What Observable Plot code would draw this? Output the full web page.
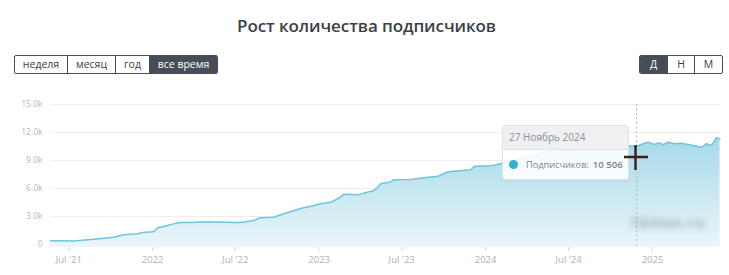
<!DOCTYPE html>
<html>
<head>
<meta charset="utf-8">
<script src="https://cdn.jsdelivr.net/npm/d3@7"></script>
<script src="https://cdn.jsdelivr.net/npm/@observablehq/plot@0.6"></script>
<style>
  html, body { margin: 0; padding: 0; background: #fff; }
  body { width: 729px; height: 275px; position: relative; overflow: hidden; font-family: "Open Sans", "Noto Sans", sans-serif; }
  #title { position: absolute; left: 0; top: 14px; width: 729px; text-align: center; font-size: 17px; font-weight: 600; color: #3b3f46; letter-spacing: -0.1px; padding-left: 4px; box-sizing: border-box; }
  .grp { position: absolute; top: 55px; height: 17px; display: flex; border: 1px solid #4a4f57; border-radius: 2px; overflow: hidden; }
  .grp div { font-size: 10.5px; line-height: 17px; color: #3b3f46; text-align: center; border-right: 1px solid #4a4f57; box-sizing: border-box; }
  .grp div:last-child { border-right: none; }
  .grp div.on { background: #474d57; color: #fff; }
  #chart { position: absolute; left: 0; top: 95px; }
  #tip { position: absolute; left: 502px; top: 125px; width: 125px; height: 53px; border: 1px solid #dfe2e6; border-radius: 3px; overflow: hidden; box-shadow: 0 1px 2px rgba(0,0,0,0.06); }
  #tip .hd { height: 23px; background: #eef0f2; border-bottom: 1px solid #dfe2e6; font-size: 10px; line-height: 23px; color: #8b9099; padding-left: 6px; }
  #tip .bd { height: 29px; background: rgba(255,255,255,0.88); font-size: 9.2px; line-height: 29px; color: #80858e; padding-left: 6px; white-space: nowrap; }
  #tip .dot { display: inline-block; width: 9px; height: 9px; border-radius: 50%; background: #35add7; vertical-align: -1px; margin-right: 8px; }
  #tip b { font-weight: 600; margin-left: 4px; color: #7a7f88; font-size: 9.6px; }
  #wm { position: absolute; left: 630px; top: 213px; font-size: 14px; font-weight: 700; color: #6f7a82; filter: blur(3px); opacity: 0.6; letter-spacing: 1px; }
  #cur { position: absolute; left: 623px; top: 145px; }
</style>
</head>
<body>
<div id="title">Рост количества подписчиков</div>
<div class="grp" style="left:14px;">
  <div style="width:53px">неделя</div>
  <div style="width:48px">месяц</div>
  <div style="width:34px">год</div>
  <div class="on" style="width:67px">все время</div>
</div>
<div class="grp" style="left:639px;">
  <div class="on" style="width:28px">Д</div>
  <div style="width:27px">Н</div>
  <div style="width:27px">М</div>
</div>
<div id="chart"></div>
<div id="wm">TGStat.ru</div>
<div id="tip">
  <div class="hd">27 Ноябрь 2024</div>
  <div class="bd"><span class="dot"></span>Подписчиков:<b>10 506</b></div>
</div>
<svg id="cur" width="26" height="26"><path d="M1,12 H25 M12.5,0 V25" stroke="#3b1f18" stroke-width="2.4" fill="none"/></svg>
<script>
const dates = [
  "2021-05-22","2021-07-12","2021-08-25","2021-10-08","2021-10-30","2021-11-30","2021-12-10",
  "2022-01-03","2022-01-12","2022-01-25","2022-02-16","2022-03-03","2022-03-25","2022-05-01",
  "2022-06-27","2022-07-13","2022-07-28","2022-08-10","2022-08-26","2022-09-23","2022-10-24",
  "2022-11-28","2022-12-14","2023-01-05","2023-01-27","2023-02-17","2023-02-24","2023-03-27",
  "2023-05-01","2023-05-10","2023-05-16","2023-06-07","2023-06-13","2023-07-21","2023-08-19",
  "2023-09-19","2023-10-11","2023-11-30","2023-12-07","2024-01-13","2024-01-20","2024-02-14",
  "2024-05-17","2024-07-29","2024-10-14","2024-10-20","2024-11-27","2024-12-11","2024-12-22",
  "2025-01-05","2025-01-16","2025-01-24","2025-02-04","2025-02-18","2025-03-05","2025-03-20",
  "2025-04-18","2025-04-29","2025-05-10","2025-05-21","2025-05-29"
];
const subscribers = [
  400,380,570,780,1040,1150,1290,
  1360,1790,1930,2210,2360,2360,2430,
  2360,2360,2460,2570,2860,2930,3430,
  3930,4100,4360,4530,5070,5390,5320,
  5780,6140,6500,6710,6930,6960,7140,
  7320,7790,8000,8350,8430,8500,8780,
  9960,10180,10500,10600,10506,10790,10960,
  10710,10890,10680,10960,10790,10850,10710,
  10420,10790,10600,11430,11320
];
const xTicks = ["2021-07-01","2022-01-01","2022-07-01","2023-01-01","2023-07-01","2024-01-01","2024-07-01","2025-01-01"];
const xTickLabels = ["Jul '21","2022","Jul '22","2023","Jul '23","2024","Jul '24","2025"];
const yTicks = [0, 3000, 6000, 9000, 12000, 15000];
const hoverDate = "2024-11-27";
const xDomain = ["2021-05-22", "2025-05-30"];
const yDomain = [-320, 15000];

const data = dates.map((d, i) => ({date: new Date(d), value: subscribers[i]}));
const tickDates = xTicks.map(d => new Date(d));
const labelOf = new Map(tickDates.map((d, i) => [+d, xTickLabels[i]]));

const defs = () => {
  const g = d3.create("svg:defs");
  const lg = g.append("linearGradient").attr("id", "subgrad")
    .attr("gradientUnits", "userSpaceOnUse").attr("x1", 0).attr("x2", 0).attr("y1", 45).attr("y2", 152);
  lg.append("stop").attr("offset", "0%").attr("stop-color", "#a7dae9");
  lg.append("stop").attr("offset", "100%").attr("stop-color", "#eaf6fa");
  return g.node();
};

const chart = Plot.plot({
  width: 729, height: 180,
  marginLeft: 50, marginRight: 9, marginTop: 9, marginBottom: 28,
  style: {background: "transparent", fontFamily: "Open Sans, Noto Sans, sans-serif"},
  x: {type: "utc", domain: xDomain.map(d => new Date(d))},
  y: {domain: yDomain},
  marks: [
    defs,
    Plot.gridY(yTicks, {stroke: "#eceef1", strokeOpacity: 1}),
    Plot.areaY(data, {x: "date", y1: yDomain[0], y2: "value", fill: "url(#subgrad)"}),
    Plot.lineY(data, {x: "date", y: "value", stroke: "#70c5de", strokeWidth: 1.5}),
    Plot.ruleX([new Date(hoverDate)], {stroke: "#b3b8bf", strokeDasharray: "2,2.5", strokeWidth: 1}),
    Plot.axisY(yTicks, {tickSize: 0, tickPadding: 8, fill: "#b0b7c3", fontSize: 8.5, label: null,
      tickFormat: d => d === 0 ? "0" : (d / 1000).toFixed(1) + "k"}),
    Plot.axisX(tickDates, {tickSize: 4, tickPadding: 5, stroke: "#d5d9df", fill: "#aab2bf", fontSize: 9.5, label: null,
      tickFormat: d => labelOf.get(+d)})
  ]
});
document.getElementById("chart").appendChild(chart);
</script>
</body>
</html>
